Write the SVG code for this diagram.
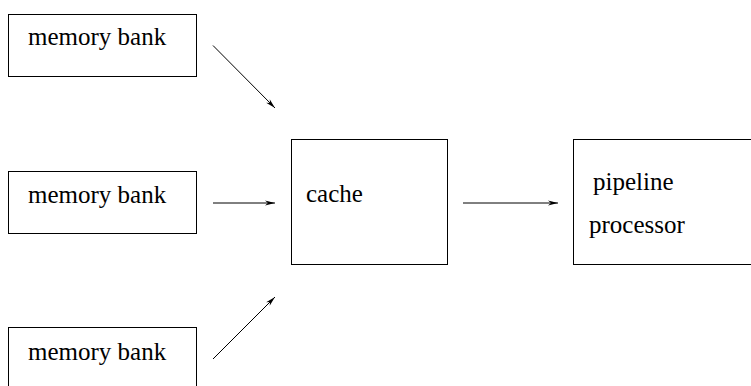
<svg xmlns="http://www.w3.org/2000/svg" width="751" height="386" viewBox="0 0 751 386">
<style>
.box{fill:#fff;stroke:#000;stroke-width:1}
.lbl{font-family:'Liberation Serif','Times New Roman',serif;font-size:25px;fill:#000}
.conn{stroke:#000;stroke-width:1;fill:none;marker-end:url(#ah)}
</style>
<defs>
<marker id="ah" markerUnits="userSpaceOnUse" markerWidth="12" markerHeight="8" refX="10" refY="4" orient="auto">
<path d="M0,1.5 L10,4 L0,6.5 L3,4 Z" fill="#000"/>
</marker>
</defs>
<rect width="751" height="386" fill="#fff"/>
<g id="mem1">
<rect class="box" x="8.5" y="14.5" width="188" height="62"/>
<text class="lbl" x="28" y="45">memory bank</text>
</g>
<g id="mem2">
<rect class="box" x="8.5" y="171.5" width="188" height="62"/>
<text class="lbl" x="28" y="203">memory bank</text>
</g>
<g id="mem3">
<rect class="box" x="8.5" y="327.5" width="188" height="70"/>
<text class="lbl" x="28" y="360">memory bank</text>
</g>
<g id="cache">
<rect class="box" x="291.5" y="139.5" width="156" height="125"/>
<text class="lbl" x="306" y="202">cache</text>
</g>
<g id="proc">
<rect class="box" x="573.5" y="139.5" width="190" height="125"/>
<text class="lbl" x="593" y="190">pipeline</text>
<text class="lbl" x="589" y="233">processor</text>
</g>
<g id="connectors">
<line class="conn" x1="213" y1="45.5" x2="275" y2="108"/>
<line class="conn" x1="213" y1="203" x2="275" y2="203"/>
<line class="conn" x1="213" y1="359" x2="275" y2="297"/>
<line class="conn" x1="463" y1="203" x2="558" y2="203"/>
</g>
</svg>
